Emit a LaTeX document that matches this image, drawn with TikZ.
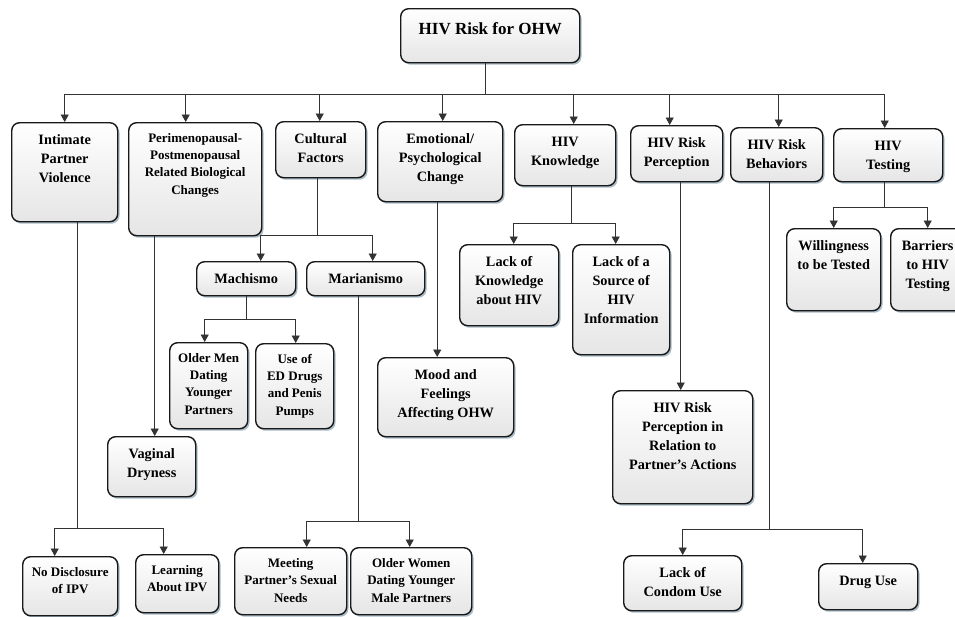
\documentclass[tikz,border=0pt]{standalone}
\usepackage{fontspec}
\setmainfont{Liberation Serif}
\usetikzlibrary{shadows,arrows.meta}
\definecolor{shcol}{RGB}{140,165,180}
\newcommand\fsn{\fontsize{14.3}{18.9}\selectfont}
\newcommand\fss{\fontsize{13}{17.2}\selectfont}
\newcommand\fsr{\fontsize{17}{22}\selectfont}
\tikzset{
  bx/.style={draw=black!90, line width=1.4pt, rounded corners=8pt,
    top color=white, bottom color=black!10,
    drop shadow={shadow xshift=1.8pt, shadow yshift=-2pt, fill=shcol, opacity=0.75},
    inner sep=0pt, anchor=north west},
  ln/.style={draw=black!80, line width=0.9pt},
  ar/.style={ln, -{Triangle[length=7.5pt,width=8pt]}},
}
\newcommand\mkbox[7][\fsn]{\node[bx,font=\bfseries#1] (#2) at (#3,#4) {\parbox[c][#6pt][t]{#5pt}{\centering\rule{0pt}{1.53em}#7\par}};}
\begin{document}
\begin{tikzpicture}[x=1pt,y=-1pt]
\fill[white] (0,0) rectangle (955,616);
\useasboundingbox (0,0) rectangle (955,616);
% boxes
\mkbox[\fsr]{root}{400}{8}{179}{54}{HIV Risk for OHW}
\mkbox{ipv}{11}{122}{106}{99}{Intimate\\Partner\\Violence}
\mkbox[\fss]{peri}{128}{122}{133}{113}{Perimenopausal-\\Postmenopausal\\Related Biological\\Changes}
\mkbox{cult}{275}{121}{90}{56}{Cultural\\Factors}
\mkbox{emo}{377}{121}{125}{80}{Emotional/\\Psychological\\Change}
\mkbox{know}{514}{124}{101}{61}{HIV\\Knowledge}
\mkbox{perc}{630}{125}{92}{56}{HIV Risk\\Perception}
\mkbox{behav}{730}{127}{92}{54}{HIV Risk\\Behaviors}
\mkbox{test}{833}{128}{109}{53}{HIV\\Testing}
\mkbox{mach}{196}{261}{99}{34}{Machismo}
\mkbox{mari}{306}{261}{118}{34}{Marianismo}
\mkbox[\fss]{oldm}{169}{342}{78}{86}{Older Men\\Dating\\Younger\\Partners}
\mkbox[\fss]{ed}{255}{343}{78}{85}{Use of\\ED Drugs\\and Penis\\Pumps}
\mkbox{vag}{107}{436}{88}{60}{Vaginal\\Dryness}
\mkbox[\fss]{nodisc}{22}{556}{95}{59}{No Disclosure\\of IPV}
\mkbox[\fss]{learn}{135}{554}{83}{58}{Learning\\About IPV}
\mkbox[\fss]{meet}{234}{547}{112}{67}{Meeting\\Partner’s Sexual\\Needs}
\mkbox[\fss]{oldw}{350}{547}{121}{67}{Older Women\\Dating Younger\\Male Partners}
\mkbox{mood}{377}{357}{136}{79}{Mood and\\Feelings\\Affecting OHW}
\mkbox{lackk}{459}{244}{99}{81}{Lack of\\Knowledge\\about HIV}
\mkbox{lacks}{572}{244}{97}{110}{Lack of a\\Source of\\HIV\\Information}
\mkbox{will}{786}{228}{94}{82}{Willingness\\to be Tested}
\mkbox{barr}{890}{228}{74}{82}{Barriers\\to HIV\\Testing}
\mkbox{rel}{612}{390}{140}{113}{HIV Risk\\Perception in\\Relation to\\Partner’s Actions}
\mkbox{condom}{623}{555}{118}{55}{Lack of\\Condom Use}
\mkbox{drug}{818}{563}{99}{46}{Drug Use}
% stem start points
\coordinate (sroot) at ([xshift=-4.5pt]root.south);
\coordinate (sipv) at ([xshift=13pt]ipv.south);
\coordinate (speri) at ([xshift=-40.5pt]peri.south);
\coordinate (scult) at ([xshift=-3pt]cult.south);
\coordinate (semo) at ([xshift=-3pt]emo.south);
\coordinate (sknow) at ([xshift=6.5pt]know.south);
\coordinate (sperc) at ([xshift=4pt]perc.south);
\coordinate (sbehav) at ([xshift=-7pt]behav.south);
\coordinate (stest) at ([xshift=-3.5pt]test.south);
\coordinate (smach) at ([xshift=0.5pt]mach.south);
\coordinate (smari) at ([xshift=-7pt]mari.south);
% arrow tip points
\coordinate (tipv) at (ipv.north);
\coordinate (tperi) at ([xshift=-9.5pt]peri.north);
\coordinate (tcult) at ([xshift=-1pt]cult.north);
\coordinate (temo) at ([xshift=2.5pt]emo.north);
\coordinate (tknow) at ([xshift=8.5pt]know.north);
\coordinate (tperc) at ([xshift=-7pt]perc.north);
\coordinate (tbehav) at ([xshift=2pt]behav.north);
\coordinate (ttest) at ([xshift=-3.5pt]test.north);
\coordinate (tmach) at ([xshift=14.5pt]mach.north);
\coordinate (tmari) at ([xshift=7pt]mari.north);
\coordinate (toldm) at ([xshift=-4pt]oldm.north);
\coordinate (ted) at ([xshift=1pt]ed.north);
\coordinate (tmeet) at ([xshift=16pt]meet.north);
\coordinate (toldw) at ([xshift=-1.5pt]oldw.north);
\coordinate (tnodisc) at ([xshift=-15.5pt]nodisc.north);
\coordinate (tlearn) at ([xshift=-13.5pt]learn.north);
\coordinate (tlackk) at ([xshift=4.5pt]lackk.north);
\coordinate (tlacks) at ([xshift=-5.5pt]lacks.north);
\coordinate (tcondom) at (condom.north);
\coordinate (tdrug) at ([xshift=-5.5pt]drug.north);
\coordinate (twill) at (will.north);
\coordinate (tbarr) at (barr.north);
% bus levels
\coordinate (b0) at (0,94);
\coordinate (b1) at (0,235);
\coordinate (b2) at (0,319);
\coordinate (b3) at (0,521);
\coordinate (b4) at (0,528);
\coordinate (b5) at (0,223);
\coordinate (b6) at (0,529);
\coordinate (b7) at (0,207);
% main level
\draw[ln] (sroot) -- (sroot |- b0);
\draw[ln] (tipv |- b0) -- (ttest |- b0);
\foreach \n in {ipv,peri,cult,emo,know,perc,behav,test}
  \draw[ar] (t\n |- b0) -- (t\n);
% cultural factors
\draw[ln] (scult) -- (scult |- b1);
\draw[ln] (tmach |- b1) -- (tmari |- b1);
\draw[ar] (tmach |- b1) -- (tmach);
\draw[ar] (tmari |- b1) -- (tmari);
% machismo
\draw[ln] (smach) -- (smach |- b2);
\draw[ln] (toldm |- b2) -- (ted |- b2);
\draw[ar] (toldm |- b2) -- (toldm);
\draw[ar] (ted |- b2) -- (ted);
% marianismo
\draw[ln] (smari) -- (smari |- b3);
\draw[ln] (tmeet |- b3) -- (toldw |- b3);
\draw[ar] (tmeet |- b3) -- (tmeet);
\draw[ar] (toldw |- b3) -- (toldw);
% intimate partner violence
\draw[ln] (sipv) -- (sipv |- b4);
\draw[ln] (tnodisc |- b4) -- (tlearn |- b4);
\draw[ar] (tnodisc |- b4) -- (tnodisc);
\draw[ar] (tlearn |- b4) -- (tlearn);
% single chains
\draw[ar] (speri) -- (speri |- vag.north);
\draw[ar] (semo) -- (semo |- mood.north);
\draw[ar] (sperc) -- (sperc |- rel.north);
% HIV knowledge
\draw[ln] (sknow) -- (sknow |- b5);
\draw[ln] (tlackk |- b5) -- (tlacks |- b5);
\draw[ar] (tlackk |- b5) -- (tlackk);
\draw[ar] (tlacks |- b5) -- (tlacks);
% HIV risk behaviors
\draw[ln] (sbehav) -- (sbehav |- b6);
\draw[ln] (tcondom |- b6) -- (tdrug |- b6);
\draw[ar] (tcondom |- b6) -- (tcondom);
\draw[ar] (tdrug |- b6) -- (tdrug);
% HIV testing
\draw[ln] (stest) -- (stest |- b7);
\draw[ln] (twill |- b7) -- (tbarr |- b7);
\draw[ar] (twill |- b7) -- (twill);
\draw[ar] (tbarr |- b7) -- (tbarr);
\end{tikzpicture}
\end{document}
